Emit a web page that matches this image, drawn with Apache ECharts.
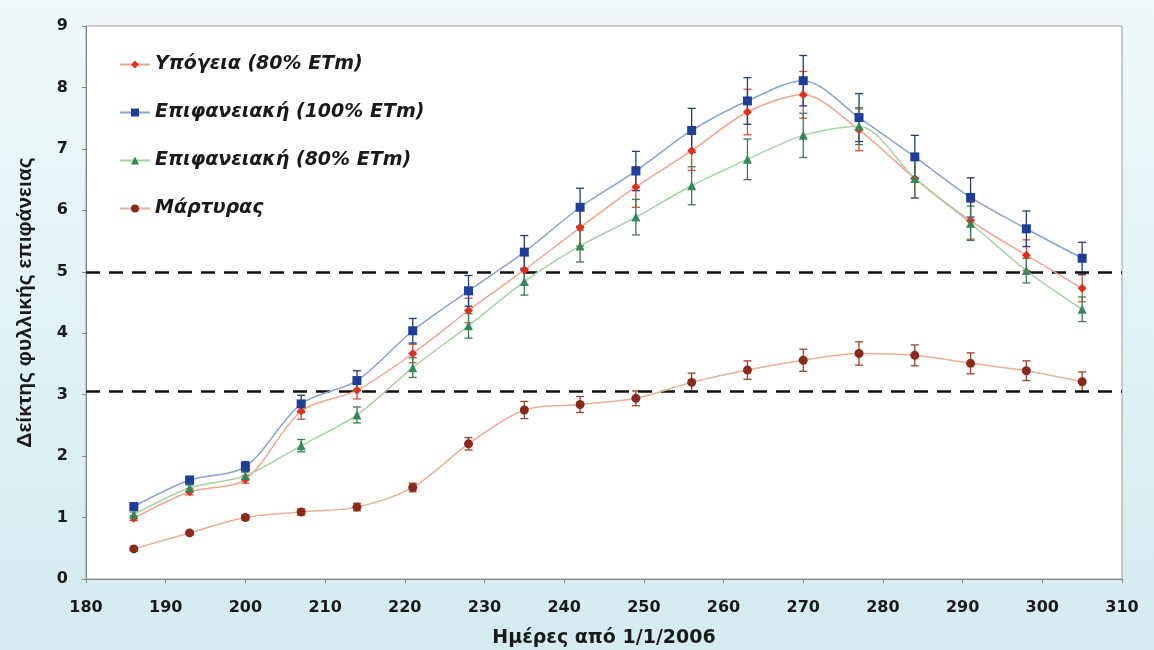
<!DOCTYPE html>
<html>
<head>
<meta charset="utf-8">
<script src="https://cdn.jsdelivr.net/npm/echarts@6/dist/echarts.min.js"></script>
<style>
html,body{margin:0;padding:0;background:#dcedf1;}
#chart{width:1154px;height:650px;}
</style>
</head>
<body>
<div id="chart"></div>
<script>
const days = [186,193,200,207,214,221,228,235,242,249,256,263,270,277,284,291,298,305];

const ypogeia    = [0.99,1.42,1.62,2.73,3.07,3.67,4.37,5.03,5.72,6.38,6.97,7.60,7.88,7.31,6.52,5.83,5.27,4.73];
const ypogeiaErr = [0.04,0.05,0.06,0.13,0.14,0.15,0.20,0.24,0.30,0.33,0.32,0.37,0.38,0.34,0.32,0.30,0.25,0.22];

const epif100    = [1.18,1.61,1.83,2.85,3.23,4.04,4.69,5.32,6.05,6.64,7.30,7.78,8.11,7.51,6.87,6.21,5.70,5.22];
const epif100Err = [0.05,0.06,0.08,0.14,0.16,0.20,0.25,0.27,0.31,0.32,0.36,0.38,0.41,0.39,0.35,0.32,0.29,0.26];

const epif80     = [1.05,1.48,1.68,2.17,2.67,3.44,4.12,4.84,5.42,5.89,6.40,6.83,7.22,7.37,6.52,5.79,5.02,4.39];
const epif80Err  = [0.04,0.05,0.06,0.10,0.13,0.16,0.20,0.22,0.26,0.29,0.31,0.33,0.36,0.30,0.32,0.28,0.20,0.20];

const martyras    = [0.49,0.75,1.00,1.09,1.17,1.49,2.20,2.75,2.84,2.94,3.20,3.40,3.56,3.67,3.64,3.51,3.39,3.21];
const martyrasErr = [0.03,0.03,0.04,0.05,0.06,0.07,0.10,0.14,0.13,0.12,0.15,0.15,0.18,0.19,0.17,0.17,0.16,0.16];

const thresholds = [5.0, 3.05];

const seriesNames = ['Υπόγεια (80% ETm)','Επιφανειακή (100% ETm)','Επιφανειακή (80% ETm)','Μάρτυρας'];
const xTicks = {min:180, max:310, interval:10};
const yTicks = {min:0, max:9, interval:1};

const FONT = 'DejaVu Sans, Verdana, sans-serif';

const defs = [
  {name:seriesNames[0], vals:ypogeia, err:ypogeiaErr, line:'#f2a48e', mark:'#e0301e', bar:'#d8502e', symbol:'diamond', size:9},
  {name:seriesNames[1], vals:epif100, err:epif100Err, line:'#8aa2d6', mark:'#1f3e98', bar:'#1f3a80', symbol:'rect', size:9},
  {name:seriesNames[2], vals:epif80, err:epif80Err, line:'#a6d3a6', mark:'#34875a', bar:'#3d7a55', symbol:'triangle', size:9},
  {name:seriesNames[3], vals:martyras, err:martyrasErr, line:'#eab096', mark:'#8a2a1c', bar:'#a0402a', symbol:'circle', size:9}
];

function errSeries(d){
  return {
    type:'custom',
    name:d.name+' err',
    z:4,
    silent:true,
    data: days.map((x,i)=>[x, d.vals[i]-d.err[i], d.vals[i]+d.err[i]]),
    renderItem:function(params, api){
      const x = api.value(0);
      const lo = api.coord([x, api.value(1)]);
      const hi = api.coord([x, api.value(2)]);
      const c = 4;
      const st = {stroke:d.bar, lineWidth:1.3};
      return {type:'group', children:[
        {type:'line', shape:{x1:lo[0],y1:lo[1],x2:hi[0],y2:hi[1]}, style:st},
        {type:'line', shape:{x1:lo[0]-c,y1:lo[1],x2:lo[0]+c,y2:lo[1]}, style:st},
        {type:'line', shape:{x1:hi[0]-c,y1:hi[1],x2:hi[0]+c,y2:hi[1]}, style:st}
      ]};
    }
  };
}

const series = [];
defs.forEach(d=>{
  series.push({
    type:'line',
    name:d.name,
    data: days.map((x,i)=>[x,d.vals[i]]),
    smooth:0.3,
    symbol:d.symbol,
    symbolSize:d.size,
    z:5,
    lineStyle:{color:d.line, width:1.5},
    itemStyle:{color:d.mark},
  });
});
defs.forEach(d=>series.push(errSeries(d)));
series.push({
  type:'line',
  name:'thresholds',
  data:[],
  z:3,
  markLine:{
    silent:true,
    symbol:['none','none'],
    label:{show:false},
    lineStyle:{color:'#111', type:[14,9], width:2.5},
    data: thresholds.map(v=>({yAxis:v}))
  }
});

const chart = echarts.init(document.getElementById('chart'));
chart.setOption({
  backgroundColor:new echarts.graphic.LinearGradient(0,0,0,1,[
    {offset:0, color:'#f0f8fa'},
    {offset:1, color:'#d4ebf0'}
  ]),
  animation:false,
  grid:{left:86, right:32, top:26, bottom:71, outerBoundsMode:'none', containLabel:false, show:true, backgroundColor:'#ffffff', borderColor:'#9a9a9a', borderWidth:1},
  legend:{
    data:seriesNames,
    orient:'vertical',
    left:114, top:50,
    itemWidth:30, itemHeight:10,
    itemGap:29,
    textStyle:{fontFamily:FONT, fontSize:19, fontWeight:'bold', fontStyle:'italic', color:'#1a1a1a'}
  },
  xAxis:{
    type:'value',
    min:xTicks.min, max:xTicks.max, interval:xTicks.interval,
    name:'Ημέρες από 1/1/2006',
    nameLocation:'middle', nameGap:50,
    nameTextStyle:{fontFamily:FONT, fontSize:19, fontWeight:'bold', color:'#1a1a1a'},
    axisLine:{lineStyle:{color:'#888'}},
    axisTick:{show:true, length:4, lineStyle:{color:'#888'}},
    axisLabel:{margin:21, fontFamily:FONT, fontSize:16, fontWeight:'bold', color:'#1a1a1a'},
    splitLine:{show:false}
  },
  yAxis:{
    type:'value',
    min:yTicks.min, max:yTicks.max, interval:yTicks.interval,
    name:'Δείκτης φυλλικής επιφάνειας',
    nameLocation:'middle', nameGap:50, nameRotate:90,
    nameTextStyle:{fontFamily:'Liberation Sans, Arial, sans-serif', fontSize:21, fontWeight:'bold', color:'#1a1a1a'},
    axisLine:{show:true, lineStyle:{color:'#888'}},
    axisTick:{show:true, length:4, lineStyle:{color:'#888'}},
    axisLabel:{margin:18, fontFamily:FONT, fontSize:16, fontWeight:'bold', color:'#1a1a1a'},
    splitLine:{show:false}
  },
  series:series
});
</script>
</body>
</html>
